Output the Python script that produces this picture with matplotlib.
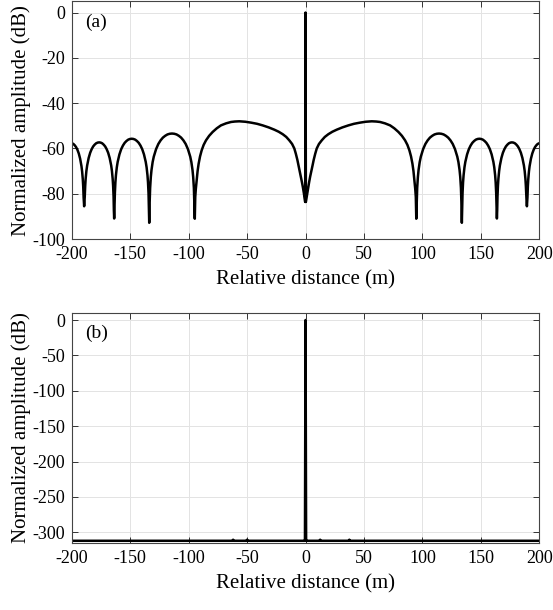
import numpy as np
import matplotlib.pyplot as plt

plt.rcParams['font.family'] = ['Liberation Serif', 'DejaVu Serif']
plt.rcParams['axes.unicode_minus'] = False

# (a) 右半分の読み取り値 (左右対称)
dist_a = [0, 0.3, 0.8, 1.5, 2.3, 3.1, 4.0, 5.0, 6.0, 7.0, 8.3, 9.6, 11.5, 13.9, 16.5, 19.5,
          23.0, 26.7, 31.5, 36.7, 41.5, 46.5, 51.5, 56.7, 60.5, 63.8, 68.0, 72.4, 76.0, 79.5,
          82.5, 85.2, 87.2, 88.9, 90.3, 91.5, 92.4, 93.2, 93.9, 94.4, 94.8,
          95.19, 95.58, 96.17, 96.75, 97.73, 98.7, 100.65, 102.6, 104.55, 106.5, 108.45, 110.4,
          112.35, 114.3, 116.25, 118.2, 120.15, 122.1, 124.05, 126.0, 127.95, 129.9, 130.88,
          131.85, 132.44, 133.02, 133.41, 133.8,
          134.1, 134.4, 134.85, 135.3, 136.05, 136.8, 138.3, 139.8, 141.3, 142.8, 144.3, 145.8,
          147.3, 148.8, 150.3, 151.8, 153.3, 154.8, 156.3, 157.8, 159.3, 160.8, 161.55, 162.3,
          162.75, 163.2, 163.5, 163.8,
          164.06, 164.31, 164.7, 165.09, 165.73, 166.37, 167.66, 168.94, 170.23, 171.51, 172.8,
          174.08, 175.37, 176.65, 177.94, 179.22, 180.51, 181.79, 183.08, 184.36, 185.65, 186.93,
          187.58, 188.22, 188.6, 188.99, 189.24, 189.5,
          189.73, 189.96, 190.3, 190.65, 191.23, 191.8, 192.95, 194.1, 195.25, 196.4, 197.55,
          198.7, 199.85, 200.0]
amp_a = [0, -83.6, -82.0, -79.5, -77.0, -74.8, -72.3, -70.0, -67.5, -65.0, -62.3, -60.0, -58.0,
         -56.4, -54.9, -53.7, -52.6, -51.7, -50.7, -49.8, -49.1, -48.6, -48.2, -48.0, -48.1, -48.3,
         -48.9, -49.8, -51.1, -52.7, -54.4, -56.4, -58.4, -60.8, -63.5, -66.7, -70.0, -74.0, -77.8,
         -81.4, -91.0,
         -83.5, -77.4, -72.6, -69.5, -66.0, -63.6, -60.3, -58.0, -56.4, -55.2, -54.4, -53.8, -53.5,
         -53.4, -53.5, -53.8, -54.4, -55.2, -56.4, -58.0, -60.3, -63.6, -66.0, -69.5, -72.6, -77.4,
         -83.5, -92.8,
         -85.8, -79.7, -74.9, -71.8, -68.3, -65.9, -62.6, -60.3, -58.7, -57.5, -56.7, -56.1, -55.8,
         -55.7, -55.8, -56.1, -56.7, -57.5, -58.7, -60.3, -62.6, -65.9, -68.3, -71.8, -74.9, -79.7,
         -85.8, -90.9,
         -87.4, -81.3, -76.5, -73.4, -69.9, -67.5, -64.2, -61.9, -60.3, -59.1, -58.3, -57.7, -57.4,
         -57.3, -57.4, -57.7, -58.3, -59.1, -60.3, -61.9, -64.2, -67.5, -69.9, -73.4, -76.5, -81.3,
         -83.5, -85.5,
         -83.5, -81.6, -76.8, -73.7, -70.2, -67.8, -64.5, -62.2, -60.6, -59.4, -58.6, -58.0, -57.7,
         -57.7]

# (b) 読み取り値
dist_b = [-200, -62.5, -62, -61.5, -50.5, -50, -49.5, -1.0, -0.5, 0, 0.5, 1.0,
          12, 12.5, 13, 37, 37.5, 38, 200]
amp_b = [-312, -312, -310.5, -312, -312, -310.5, -312, -312, -312, 0, -312, -312,
         -312, -310.5, -312, -312, -310.5, -312, -312]

xa = np.concatenate([-np.array(dist_a[::-1]), np.array(dist_a[1:])])
ya = np.concatenate([np.array(amp_a[::-1]), np.array(amp_a[1:])])

fig = plt.figure(figsize=(5.53, 6.10), dpi=100)
ax1 = fig.add_axes([0.130, 0.608, 0.845, 0.390])
ax2 = fig.add_axes([0.130, 0.110, 0.845, 0.377])

ax1.plot(xa, ya, color='black', lw=1.8, solid_joinstyle='round')
ax2.plot(dist_b, amp_b, color='black', lw=1.8)

ax1.set_ylim(-100, 5)
ax1.set_yticks(np.arange(-100, 1, 20))
ax2.set_ylim(-315, 10)
ax2.set_yticks(np.arange(-300, 1, 50))

for ax, lab in [(ax1, '(a)'), (ax2, '(b)')]:
    ax.set_xlim(-200, 200)
    ax.set_xticks(np.arange(-200, 201, 50))
    ax.grid(True, color='#e3e3e3', lw=0.7)
    ax.set_axisbelow(True)
    ax.tick_params(direction='in', length=4, width=0.7, top=True, right=True,
                   labelsize=13, pad=5, color='#333333')
    for s in ax.spines.values():
        s.set_color('#444444')
        s.set_linewidth(0.8)
    ax.set_xlabel('Relative distance (m)', fontsize=15, labelpad=5)
    ax.set_ylabel('Normalized amplitude (dB)', fontsize=15, labelpad=1)
    ax.text(0.028, 0.91, lab, transform=ax.transAxes, fontsize=14, va='center')

fig.savefig('out.png', dpi=100)
